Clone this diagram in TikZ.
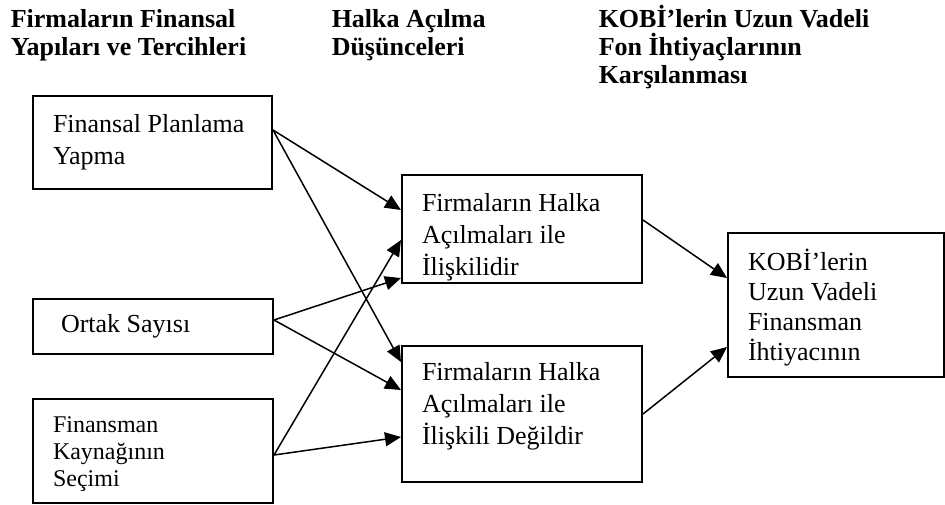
\documentclass[tikz,border=0pt]{standalone}
\usepackage{fontspec}
\setmainfont{Liberation Serif}
\usetikzlibrary{arrows.meta, positioning}

\begin{document}
\begin{tikzpicture}[
        x=0.5pt,
        y=-0.5pt,
        ->,
        >={Triangle[length=8pt, width=7pt]},
        line width=0.75pt,
        head/.style={anchor=base west, align=left, inner sep=0pt,
            font=\bfseries\fontsize{13}{14}\selectfont},
        box/.style={draw, line width=1pt, align=flush left, inner xsep=10pt,
            inner ysep=0pt, font=\fontsize{13}{16}\selectfont}
    ]
    \useasboundingbox (0,0) rectangle (945,504);

    % column titles (anchored at the last line)
    \node[head] (h1) at (10,55) {Firmaların Finansal\\Yapıları ve Tercihleri};
    \node[head] (h2) at (331,55) {Halka Açılma\\Düşünceleri};
    \node[head] (h3) at (598,83) {KOBİ’lerin Uzun Vadeli\\Fon İhtiyaçlarının\\Karşılanması};

    % left column
    \node[box, text width=99.5pt, minimum height=46.5pt] (plan) at (152.5,142.5)
        {Finansal Planlama\\Yapma};
    \node[box, text width=100pt, minimum height=27.5pt] (ortak) at (153,326.5)
        {\hspace{4pt}Ortak Sayısı};
    \node[box, text width=100pt, minimum height=52pt, font=\fontsize{12}{13.5}\selectfont]
        (kaynak) at (153,451) {\rule{0pt}{11.5pt}Finansman\\Kaynağının\\Seçimi};

    % middle column
    \node[box, text width=100pt, minimum height=54pt] (rel) at (522,229)
        {\rule{0pt}{17pt}Firmaların Halka\\Açılmaları ile\\İlişkilidir};
    \node[box, text width=100pt, minimum height=68pt] (norel) at (522,414)
        {Firmaların Halka\\Açılmaları ile\\İlişkili Değildir\rule[-11pt]{0pt}{0pt}};

    % right column
    \node[box, text width=88pt, minimum height=72pt, font=\fontsize{13}{15}\selectfont]
        (need) at (836,305) {\rule{0pt}{13pt}KOBİ’lerin\\Uzun Vadeli\\Finansman\\İhtiyacının};

    \draw ([yshift=6.25pt]plan.east) -- ([yshift=9.5pt]rel.west);
    \draw ([yshift=6.25pt]plan.east) -- ([yshift=26pt]norel.west);
    \draw ([yshift=3.25pt]ortak.east) -- ([yshift=-24.5pt]rel.west);
    \draw ([yshift=3.25pt]ortak.east) -- ([yshift=12pt]norel.west);
    \draw ([yshift=-2pt]kaynak.east) -- ([yshift=-5.5pt]rel.west);
    \draw ([yshift=-2pt]kaynak.east) -- ([yshift=-11.5pt]norel.west);

    \draw ([yshift=4.5pt]rel.east) -- ([yshift=13.5pt]need.west);
    \draw (norel.east) -- ([yshift=-21pt]need.west);
\end{tikzpicture}
\end{document}
